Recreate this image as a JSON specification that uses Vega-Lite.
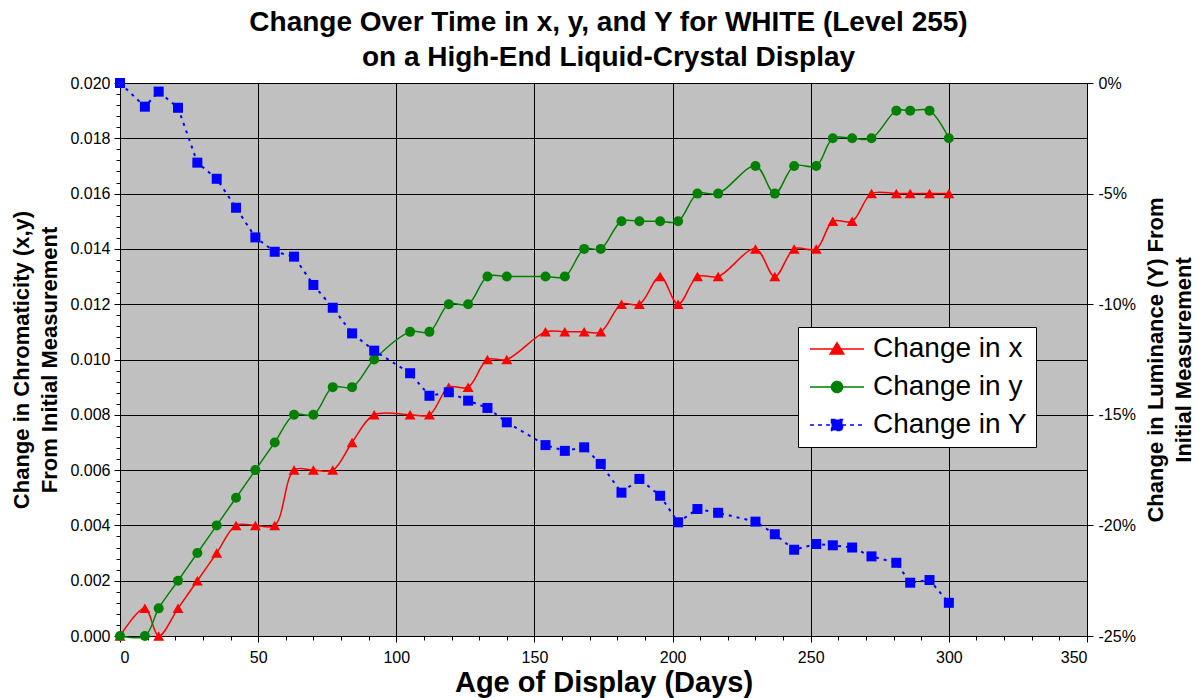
{
  "$schema": "https://vega.github.io/schema/vega-lite/v6.json",
  "width": 967,
  "height": 553,
  "autosize": "none",
  "padding": {"left": 120, "top": 83, "right": 112, "bottom": 62},
  "background": "white",
  "config": {
    "font": "Liberation Sans",
    "view": {"fill": "#C0C0C0", "stroke": "#808080", "strokeWidth": 1},
    "axis": {
      "domainColor": "black", "domainWidth": 1, "tickColor": "black", "labelColor": "black",
      "titleColor": "black", "labelFont": "Liberation Sans", "titleFont": "Liberation Sans",
      "labelFontSize": 16, "gridColor": "black", "gridWidth": 1, "titleFontWeight": "bold"
    }
  },
  "title": {
    "text": ["Change Over Time in x, y, and Y for WHITE (Level 255)", "on a High-End Liquid-Crystal Display"],
    "font": "Liberation Sans", "fontSize": 28, "fontWeight": "bold", "lineHeight": 35,
    "color": "black", "anchor": "middle", "offset": 3, "dx": 5
  },
  "data": {
    "values": [
      {"day": 0, "series": "Change in x", "value": 0},
      {"day": 9, "series": "Change in x", "value": 0.001},
      {"day": 14, "series": "Change in x", "value": 0},
      {"day": 21, "series": "Change in x", "value": 0.001},
      {"day": 28, "series": "Change in x", "value": 0.002},
      {"day": 35, "series": "Change in x", "value": 0.003},
      {"day": 42, "series": "Change in x", "value": 0.004},
      {"day": 49, "series": "Change in x", "value": 0.004},
      {"day": 56, "series": "Change in x", "value": 0.004},
      {"day": 63, "series": "Change in x", "value": 0.006},
      {"day": 70, "series": "Change in x", "value": 0.006},
      {"day": 77, "series": "Change in x", "value": 0.006},
      {"day": 84, "series": "Change in x", "value": 0.007},
      {"day": 92, "series": "Change in x", "value": 0.008},
      {"day": 105, "series": "Change in x", "value": 0.008},
      {"day": 112, "series": "Change in x", "value": 0.008},
      {"day": 119, "series": "Change in x", "value": 0.009},
      {"day": 126, "series": "Change in x", "value": 0.009},
      {"day": 133, "series": "Change in x", "value": 0.010},
      {"day": 140, "series": "Change in x", "value": 0.010},
      {"day": 154, "series": "Change in x", "value": 0.011},
      {"day": 161, "series": "Change in x", "value": 0.011},
      {"day": 168, "series": "Change in x", "value": 0.011},
      {"day": 174, "series": "Change in x", "value": 0.011},
      {"day": 181.5, "series": "Change in x", "value": 0.012},
      {"day": 188, "series": "Change in x", "value": 0.012},
      {"day": 195.5, "series": "Change in x", "value": 0.013},
      {"day": 202, "series": "Change in x", "value": 0.012},
      {"day": 209, "series": "Change in x", "value": 0.013},
      {"day": 216.5, "series": "Change in x", "value": 0.013},
      {"day": 230, "series": "Change in x", "value": 0.014},
      {"day": 237, "series": "Change in x", "value": 0.013},
      {"day": 244, "series": "Change in x", "value": 0.014},
      {"day": 252, "series": "Change in x", "value": 0.014},
      {"day": 258, "series": "Change in x", "value": 0.015},
      {"day": 265, "series": "Change in x", "value": 0.015},
      {"day": 272, "series": "Change in x", "value": 0.016},
      {"day": 281, "series": "Change in x", "value": 0.016},
      {"day": 286, "series": "Change in x", "value": 0.016},
      {"day": 293, "series": "Change in x", "value": 0.016},
      {"day": 300, "series": "Change in x", "value": 0.016},
      {"day": 0, "series": "Change in y", "value": 0},
      {"day": 9, "series": "Change in y", "value": 0},
      {"day": 14, "series": "Change in y", "value": 0.001},
      {"day": 21, "series": "Change in y", "value": 0.002},
      {"day": 28, "series": "Change in y", "value": 0.003},
      {"day": 35, "series": "Change in y", "value": 0.004},
      {"day": 42, "series": "Change in y", "value": 0.005},
      {"day": 49, "series": "Change in y", "value": 0.006},
      {"day": 56, "series": "Change in y", "value": 0.007},
      {"day": 63, "series": "Change in y", "value": 0.008},
      {"day": 70, "series": "Change in y", "value": 0.008},
      {"day": 77, "series": "Change in y", "value": 0.009},
      {"day": 84, "series": "Change in y", "value": 0.009},
      {"day": 92, "series": "Change in y", "value": 0.010},
      {"day": 105, "series": "Change in y", "value": 0.011},
      {"day": 112, "series": "Change in y", "value": 0.011},
      {"day": 119, "series": "Change in y", "value": 0.012},
      {"day": 126, "series": "Change in y", "value": 0.012},
      {"day": 133, "series": "Change in y", "value": 0.013},
      {"day": 140, "series": "Change in y", "value": 0.013},
      {"day": 154, "series": "Change in y", "value": 0.013},
      {"day": 161, "series": "Change in y", "value": 0.013},
      {"day": 168, "series": "Change in y", "value": 0.014},
      {"day": 174, "series": "Change in y", "value": 0.014},
      {"day": 181.5, "series": "Change in y", "value": 0.015},
      {"day": 188, "series": "Change in y", "value": 0.015},
      {"day": 195.5, "series": "Change in y", "value": 0.015},
      {"day": 202, "series": "Change in y", "value": 0.015},
      {"day": 209, "series": "Change in y", "value": 0.016},
      {"day": 216.5, "series": "Change in y", "value": 0.016},
      {"day": 230, "series": "Change in y", "value": 0.017},
      {"day": 237, "series": "Change in y", "value": 0.016},
      {"day": 244, "series": "Change in y", "value": 0.017},
      {"day": 252, "series": "Change in y", "value": 0.017},
      {"day": 258, "series": "Change in y", "value": 0.018},
      {"day": 265, "series": "Change in y", "value": 0.018},
      {"day": 272, "series": "Change in y", "value": 0.018},
      {"day": 281, "series": "Change in y", "value": 0.019},
      {"day": 286, "series": "Change in y", "value": 0.019},
      {"day": 293, "series": "Change in y", "value": 0.019},
      {"day": 300, "series": "Change in y", "value": 0.018},
      {"day": 0, "series": "Change in Y", "value": 0},
      {"day": 9, "series": "Change in Y", "value": -0.0107},
      {"day": 14, "series": "Change in Y", "value": -0.0039},
      {"day": 21, "series": "Change in Y", "value": -0.0112},
      {"day": 28, "series": "Change in Y", "value": -0.036},
      {"day": 35, "series": "Change in Y", "value": -0.0433},
      {"day": 42, "series": "Change in Y", "value": -0.0564},
      {"day": 49, "series": "Change in Y", "value": -0.0698},
      {"day": 56, "series": "Change in Y", "value": -0.0763},
      {"day": 63, "series": "Change in Y", "value": -0.0785},
      {"day": 70, "series": "Change in Y", "value": -0.0913},
      {"day": 77, "series": "Change in Y", "value": -0.1016},
      {"day": 84, "series": "Change in Y", "value": -0.1132},
      {"day": 92, "series": "Change in Y", "value": -0.121},
      {"day": 105, "series": "Change in Y", "value": -0.1312},
      {"day": 112, "series": "Change in Y", "value": -0.1414},
      {"day": 119, "series": "Change in Y", "value": -0.1398},
      {"day": 126, "series": "Change in Y", "value": -0.1436},
      {"day": 133, "series": "Change in Y", "value": -0.1469},
      {"day": 140, "series": "Change in Y", "value": -0.1534},
      {"day": 154, "series": "Change in Y", "value": -0.1637},
      {"day": 161, "series": "Change in Y", "value": -0.1663},
      {"day": 168, "series": "Change in Y", "value": -0.1647},
      {"day": 174, "series": "Change in Y", "value": -0.1722},
      {"day": 181.5, "series": "Change in Y", "value": -0.1852},
      {"day": 188, "series": "Change in Y", "value": -0.179},
      {"day": 195.5, "series": "Change in Y", "value": -0.1866},
      {"day": 202, "series": "Change in Y", "value": -0.1986},
      {"day": 209, "series": "Change in Y", "value": -0.1926},
      {"day": 216.5, "series": "Change in Y", "value": -0.1943},
      {"day": 230, "series": "Change in Y", "value": -0.1983},
      {"day": 237, "series": "Change in Y", "value": -0.204},
      {"day": 244, "series": "Change in Y", "value": -0.211},
      {"day": 252, "series": "Change in Y", "value": -0.2084},
      {"day": 258, "series": "Change in Y", "value": -0.209},
      {"day": 265, "series": "Change in Y", "value": -0.21},
      {"day": 272, "series": "Change in Y", "value": -0.214},
      {"day": 281, "series": "Change in Y", "value": -0.2169},
      {"day": 286, "series": "Change in Y", "value": -0.2259},
      {"day": 293, "series": "Change in Y", "value": -0.2247},
      {"day": 300, "series": "Change in Y", "value": -0.235}
    ]
  },
  "encoding": {
    "x": {
      "field": "day", "type": "quantitative",
      "scale": {"domain": [0, 350], "nice": false, "zero": false},
      "axis": {
        "title": "Age of Display (Days)", "titleFontSize": 29, "titlePadding": 3,
        "values": [0,10,20,30,40,50,60,70,80,90,100,110,120,130,140,150,160,170,180,190,200,210,220,230,240,250,260,270,280,290,300,310,320,330,340,350],
        "labelExpr": "datum.value % 50 === 0 ? datum.label : ''",
        "labelPadding": 7,
        "grid": true,
        "gridOpacity": {"condition": {"test": "datum.value % 50 === 0", "value": 1}, "value": 0},
        "tickSize": {"condition": {"test": "datum.value % 50 === 0", "value": 6}, "value": 4}
      }
    },
    "color": {
      "field": "series", "type": "nominal",
      "scale": {"domain": ["Change in x", "Change in y", "Change in Y"], "range": ["#FF0000", "#008000", "#0000FF"]},
      "legend": {
        "title": null, "orient": "none", "legendX": 678, "legendY": 244,
        "fillColor": "white", "strokeColor": "black", "padding": 8,
        "labelFont": "Liberation Sans", "labelFontSize": 28, "labelColor": "black", "labelLimit": 400,
        "rowPadding": 10, "symbolSize": 400, "labelOffset": 39,
        "encode": {
          "symbols": {
            "update": {
              "shape": {"signal": "datum.value === 'Change in x' ? 'M-1,0H4.4M1.7,-0.62L2.38,0.5H1.02Z' : datum.value === 'Change in y' ? 'M-1,0H4.4M2.25,0A0.55,0.55,0,1,1,1.15,0A0.55,0.55,0,1,1,2.25,0Z' : 'M-1,0H4.4M1.15,-0.55H2.25V0.55H1.15Z'"},
              "stroke": {"signal": "scale('color', datum.value)"},
              "fill": {"signal": "scale('color', datum.value)"},
              "strokeWidth": {"value": 1.5},
              "strokeDash": {"signal": "datum.value === 'Change in Y' ? [4,4] : [1,0]"},
              "opacity": {"value": 1},
              "fillOpacity": {"value": 1},
              "strokeOpacity": {"value": 1}
            }
          }
        }
      }
    }
  },
  "layer": [
    {
      "transform": [{"filter": "datum.series !== 'Change in Y'"}],
      "encoding": {
        "y": {
          "field": "value", "type": "quantitative",
          "scale": {"domain": [0, 0.02], "nice": false, "zero": false},
          "axis": {
            "orient": "left",
            "title": ["Change in Chromaticity (x,y)", "From Initial  Measurement"],
            "titleFontSize": 22, "titleLineHeight": 28, "titlePadding": 8,
            "values": [0,0.0004,0.0008,0.0012,0.0016,0.002,0.0024,0.0028,0.0032,0.0036,0.004,0.0044,0.0048,0.0052,0.0056,0.006,0.0064,0.0068,0.0072,0.0076,0.008,0.0084,0.0088,0.0092,0.0096,0.01,0.0104,0.0108,0.0112,0.0116,0.012,0.0124,0.0128,0.0132,0.0136,0.014,0.0144,0.0148,0.0152,0.0156,0.016,0.0164,0.0168,0.0172,0.0176,0.018,0.0184,0.0188,0.0192,0.0196,0.02],
            "labelExpr": "abs(datum.value*500 - round(datum.value*500)) < 0.001 ? format(datum.value, '.3f') : ''",
            "labelPadding": 4,
            "grid": true,
            "gridOpacity": {"condition": {"test": "abs(datum.value*500 - round(datum.value*500)) < 0.001", "value": 1}, "value": 0},
            "tickSize": {"condition": {"test": "abs(datum.value*500 - round(datum.value*500)) < 0.001", "value": 6}, "value": 4}
          }
        }
      },
      "layer": [
        {"mark": {"type": "line", "interpolate": "catmull-rom", "strokeWidth": 1.5}, "encoding": {}},
        {"transform": [{"filter": "datum.series === 'Change in x'"}], "mark": {"type": "point", "shape": "triangle-up", "filled": true, "opacity": 1, "size": 120}, "encoding": {}},
        {"transform": [{"filter": "datum.series === 'Change in y'"}], "mark": {"type": "point", "shape": "circle", "filled": true, "opacity": 1, "size": 100}, "encoding": {}}
      ]
    },
    {
      "transform": [{"filter": "datum.series === 'Change in Y'"}],
      "encoding": {
        "y": {
          "field": "value", "type": "quantitative",
          "scale": {"domain": [-0.25, 0], "nice": false, "zero": false},
          "axis": {
            "orient": "right",
            "title": ["Change in Luminance (Y) From", "Initial Measurement"],
            "titleFontSize": 22, "titleLineHeight": 28, "titlePadding": 4, "titleAngle": 270,
            "values": [-0.25, -0.2, -0.15, -0.1, -0.05, 0],
            "format": ".0%",
            "labelExpr": "replace(datum.label, '\u2212', '-')",
            "labelPadding": 5,
            "tickSize": 6,
            "grid": false
          }
        }
      },
      "layer": [
        {"mark": {"type": "line", "interpolate": "linear", "strokeWidth": 2, "strokeDash": [3, 5]}, "encoding": {}},
        {"mark": {"type": "point", "shape": "square", "filled": true, "opacity": 1, "size": 100}, "encoding": {}}
      ]
    }
  ],
  "resolve": {"scale": {"y": "independent"}}
}
